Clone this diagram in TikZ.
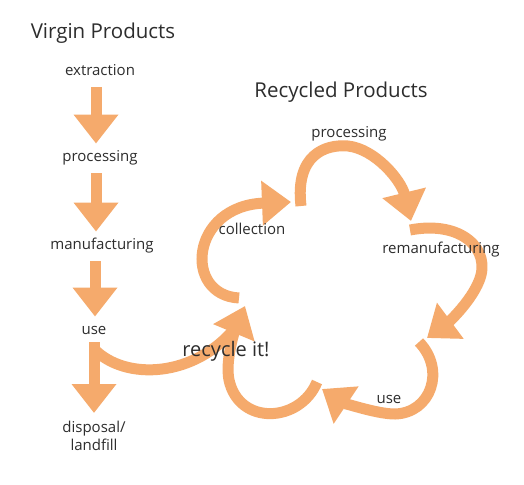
\documentclass[tikz,border=0pt]{standalone}
\usepackage{fontspec}
\setmainfont{Open Sans}
\usetikzlibrary{arrows.meta}
\definecolor{loopamber}{RGB}{245,170,108}
\definecolor{inkgray}{RGB}{45,45,45}

\begin{document}
\begin{tikzpicture}[x=1pt,y=-1pt,
  every node/.style={font=\fontsize{15}{18}\selectfont,text=inkgray,inner sep=0pt},
  heading/.style={font=\fontsize{20.5}{24}\selectfont},
  stage/.style={text height=11pt,text depth=3.5pt},
  band/.style={loopamber,line width=11pt},
  flow/.style={band,-{Triangle[width=43pt,length=29pt]}}]
  \fill[white] (0,0) rectangle (524,484);
  \useasboundingbox (0,0) rectangle (524,484);
  \node[heading] (virgin) at (103,33) {Virgin Products};
  \node[heading] (recycled) at (341,92) {Recycled Products};
  \node[stage] (ext) at (100,72) {extraction};
  \node[stage] (proc) at (100,158) {processing};
  \node[stage] (manuf) at (102,246) {manufacturing};
  \node[stage] (use) at (94,331) {use};
  \node[anchor=north,align=center] (disp) at (94,421) {disposal/\\landfill};
  \draw[flow,shorten <=8pt,shorten >=7pt] (ext.south -| 96,0) -- (proc.north -| 96,0);
  \draw[flow,shorten <=8pt,shorten >=7pt] (proc.south -| 96,0) -- (manuf.north -| 96,0);
  \draw[flow,shorten <=8pt,shorten >=7pt] (manuf.south -| 95,0) -- (use.north -| 95,0);
  \draw[flow,shorten <=4pt,shorten >=8pt] (use) -- (disp);
  \coordinate (split) at (94,349);
  \coordinate (colTail) at (239,298);
  \coordinate (colTip) at (291,202);
  \coordinate (procTail) at (301,206);
  \coordinate (procTip) at (411,221);
  \coordinate (remTail) at (410,230);
  \coordinate (remTip) at (427,338);
  \coordinate (useTail) at (419,342);
  \coordinate (useTip) at (322,389);
  \coordinate (backTail) at (317,382);
  \coordinate (backTip) at (245,306);
  \coordinate (merge) at (236,327);
  \draw[band] (split) .. controls (125,381) and (195,378) .. (merge);
  \draw[flow] (colTail) .. controls (183,295) and (190,206) .. (colTip);
  \draw[flow] (procTail) .. controls (295,155) and (325,144) .. (348,146)
    .. controls (375,149) and (401,180) .. (procTip);
  \draw[flow] (remTail) .. controls (462,220) and (492,250) .. (479,281)
    .. controls (471,301) and (450,321) .. (remTip);
  \draw[flow] (useTail) .. controls (446,370) and (431,413) .. (395,414)
    .. controls (375,414) and (340,401) .. (useTip);
  \draw[flow] (backTail) .. controls (300,423) and (239,426) .. (229,380)
    .. controls (225,360) and (235,330) .. (backTip);
  \node (collect) at (252,229) {collection};
  \node (reproc) at (349,134) {processing};
  \node (reman) at (441,250) {remanufacturing};
  \node (reuse) at (389,399) {use};
  \node[font=\fontsize{20}{24}\selectfont] (recycle) at (226,351) {recycle it!};
\end{tikzpicture}
\end{document}
